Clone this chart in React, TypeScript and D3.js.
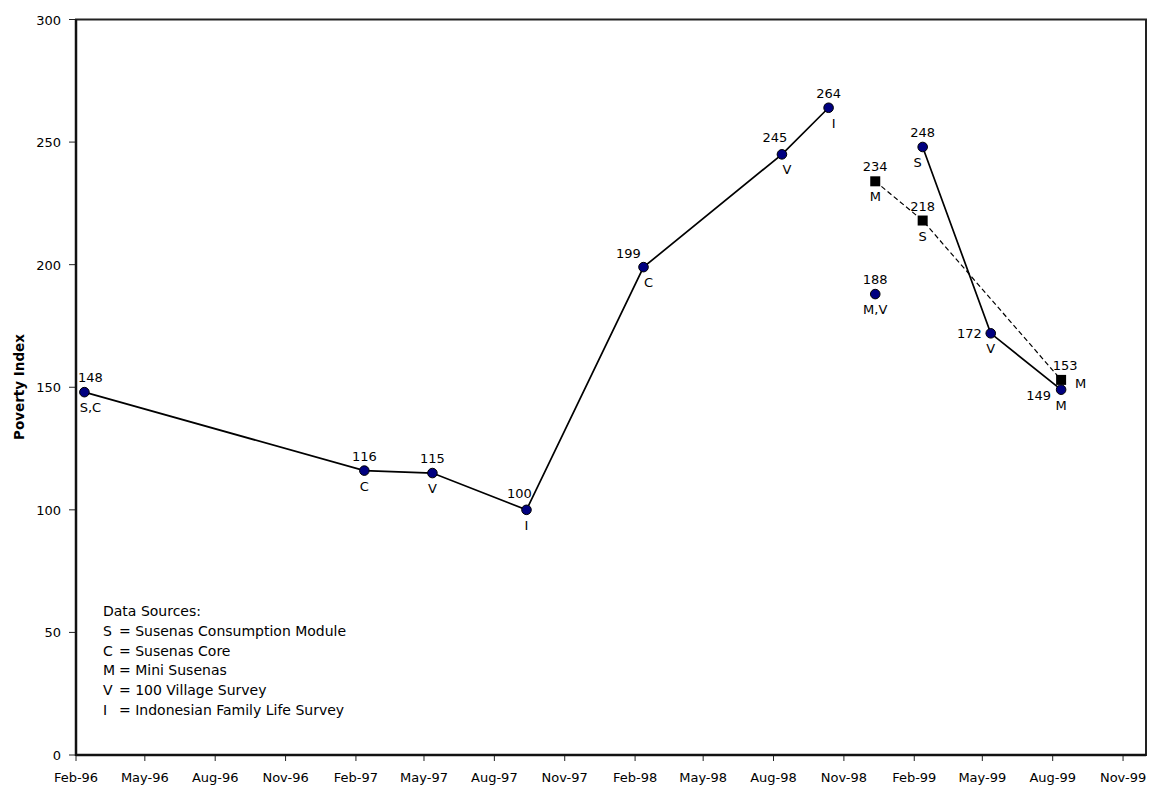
import React from "react";
import * as d3 from "d3";

// ---- data ----
const mainDates = ["1996-02-12", "1997-02-12", "1997-05-12", "1997-09-12", "1998-02-12", "1998-08-12", "1998-10-12"];
const mainValues = [148, 116, 115, 100, 199, 245, 264];
const mainSources = ["S,C", "C", "V", "I", "C", "V", "I"];

const lateDates = ["1999-02-12", "1999-05-12", "1999-08-12"];
const lateValues = [248, 172, 149];
const lateSources = ["S", "V", "M"];

const singleDates = ["1998-12-12"];
const singleValues = [188];
const singleSources = ["M,V"];

const miniDates = ["1998-12-12", "1999-02-12", "1999-08-12"];
const miniValues = [234, 218, 153];
const miniSources = ["M", "S", "M"];

const yTicks = [0, 50, 100, 150, 200, 250, 300];
const legendTitle = "Data Sources:";
const legendKeys = ["S", "C", "M", "V", "I"];
const legendNames = [
  "= Susenas Consumption Module",
  "= Susenas Core",
  "= Mini Susenas",
  "= 100 Village Survey",
  "= Indonesian Family Life Survey",
];

// ---- label placement (style config) ----
const mainValuePlace = ["above", "above", "above", "aboveLeft", "aboveLeft2", "aboveLeft", "above"];
const mainSourcePlace = ["below", "below", "below", "below", "belowRight", "belowRight", "belowRight"];
const latePlace = ["above", "left", "leftBelow"];
const lateSourcePlace = ["belowLeft", "below", "below"];
const singlePlace = ["above"];
const singleSourcePlace = ["below"];
const miniPlace = ["above", "above", "aboveRight"];
const miniSourcePlace = ["below", "below", "right"];

const W = 1160;
const H = 787;
const left = 76;
const right = 1146;
const top = 19.5;
const bottom = 755;
const FONT = "DejaVu Sans, Verdana, sans-serif";
const FS = 13;

const parse = d3.timeParse("%Y-%m-%d");
const x = d3.scaleTime().domain([new Date(1996, 1, 1), new Date(1999, 11, 1)]).range([left, right]);
const y = d3.scaleLinear().domain([0, 300]).range([bottom, top]);
const xTicks = d3.timeMonth.range(new Date(1996, 1, 1), new Date(1999, 10, 2), 3);
const fmt = d3.timeFormat("%b-%y");

type Pt = { px: number; py: number; v: number; s: string; vp: string; sp: string };

function build(dates: string[], vals: number[], srcs: string[], vp: string[], sp: string[]): Pt[] {
  return dates.map((d, i) => ({
    px: x(parse(d) as Date),
    py: y(vals[i]),
    v: vals[i],
    s: srcs[i],
    vp: vp[i],
    sp: sp[i],
  }));
}

function place(kind: string): { dx: number; dy: number; anchor: string } {
  switch (kind) {
    case "above": return { dx: 0, dy: -10, anchor: "middle" };
    case "aboveLeft": return { dx: -7, dy: -12, anchor: "middle" };
    case "aboveLeft2": return { dx: -15, dy: -9, anchor: "middle" };
    case "aboveRight": return { dx: 4, dy: -10, anchor: "middle" };
    case "left": return { dx: -9, dy: 5, anchor: "end" };
    case "leftBelow": return { dx: -10, dy: 10, anchor: "end" };
    case "right": return { dx: 14, dy: 8, anchor: "start" };
    case "below": return { dx: 0, dy: 20, anchor: "middle" };
    case "belowRight": return { dx: 5, dy: 20, anchor: "middle" };
    case "belowLeft": return { dx: -5, dy: 20, anchor: "middle" };
    default: return { dx: 0, dy: 0, anchor: "middle" };
  }
}

function Label({ p, text, kind }: { p: Pt; text: string; kind: string }) {
  const pl = place(kind);
  let tx = p.px + pl.dx;
  // keep labels inside the plot area (like the spreadsheet does)
  if (pl.anchor === "middle") {
    const half = text.length * FS * 0.32;
    if (tx - half < left + 2) tx = left + 2 + half;
  }
  return (
    <text x={tx} y={p.py + pl.dy} textAnchor={pl.anchor} fontSize={FS} fontFamily={FONT} fill="#000">
      {text}
    </text>
  );
}

export default function App() {
  const main = build(mainDates, mainValues, mainSources, mainValuePlace, mainSourcePlace);
  const late = build(lateDates, lateValues, lateSources, latePlace, lateSourcePlace);
  const single = build(singleDates, singleValues, singleSources, singlePlace, singleSourcePlace);
  const mini = build(miniDates, miniValues, miniSources, miniPlace, miniSourcePlace);

  const line = d3.line<Pt>().x((d) => d.px).y((d) => d.py);
  const circles = [...main, ...late, ...single];

  return (
    <svg width={W} height={H} style={{ position: "absolute", left: 0, top: 0, background: "#fff" }} fontFamily={FONT}>
      <rect x={0} y={0} width={W} height={H} fill="#fff" />
      {/* plot frame */}
      <rect x={left} y={top} width={right - left} height={bottom - top} fill="none" stroke="#222" strokeWidth={2} />
      {/* y axis */}
      {yTicks.map((t) => (
        <g key={t}>
          <line x1={left - 7} x2={left} y1={y(t)} y2={y(t)} stroke="#222" strokeWidth={1} />
          <text x={left - 15} y={y(t) + 5} textAnchor="end" fontSize={FS} fill="#000">{t}</text>
        </g>
      ))}
      {/* x axis */}
      {xTicks.map((t, i) => (
        <g key={i}>
          <line x1={x(t)} x2={x(t)} y1={bottom} y2={bottom + 6} stroke="#222" strokeWidth={1} />
          <text x={x(t)} y={bottom + 27} textAnchor="middle" fontSize={FS} fill="#000">{fmt(t)}</text>
        </g>
      ))}
      <line x1={left} x2={left} y1={top} y2={bottom + 1} stroke="#111" strokeWidth={2.5} />
      <line x1={left} x2={right} y1={bottom} y2={bottom} stroke="#111" strokeWidth={2.5} />
      <text transform={`translate(24,387) rotate(-90)`} textAnchor="middle" fontSize={13.5} fontWeight="bold" fill="#000">
        Poverty Index
      </text>

      {/* lines */}
      <path d={line(mini) || ""} fill="none" stroke="#000" strokeWidth={1.2} strokeDasharray="5,3" />
      <path d={line(main) || ""} fill="none" stroke="#000" strokeWidth={1.7} />
      <path d={line(late) || ""} fill="none" stroke="#000" strokeWidth={1.7} />

      {/* markers */}
      {mini.map((p, i) => (
        <rect key={"m" + i} x={p.px - 5} y={p.py - 5} width={10} height={10} fill="#000" />
      ))}
      {circles.map((p, i) => (
        <circle key={"c" + i} cx={p.px} cy={p.py} r={4.8} fill="#000080" stroke="#000" strokeWidth={1} />
      ))}

      {/* labels */}
      {[...circles, ...mini].map((p, i) => (
        <g key={"l" + i}>
          <Label p={p} text={String(p.v)} kind={p.vp} />
          <Label p={p} text={p.s} kind={p.sp} />
        </g>
      ))}

      {/* legend */}
      <text x={103} y={616} fontSize={14} fill="#000">{legendTitle}</text>
      {legendKeys.map((k, i) => (
        <g key={k}>
          <text x={103} y={636 + i * 19.7} fontSize={14} fill="#000">{k}</text>
          <text x={119} y={636 + i * 19.7} fontSize={14} fill="#000">{legendNames[i]}</text>
        </g>
      ))}
    </svg>
  );
}
